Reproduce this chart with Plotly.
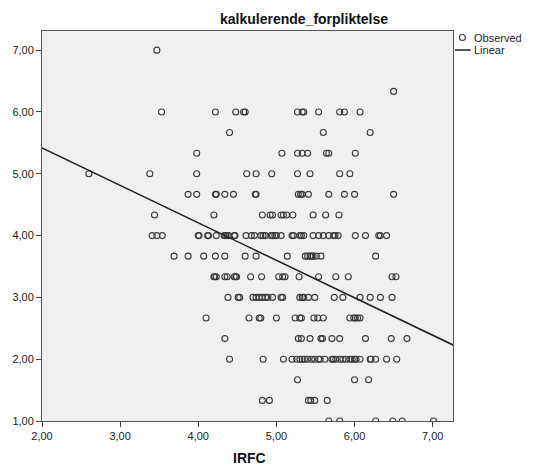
import plotly.graph_objects as go

# IRFC values (x) for each level of kalkulerende_forpliktelse (y)
y_levels = [7.0, 6.333, 6.0, 5.667, 5.333, 5.0, 4.667, 4.333, 4.0, 3.667,
            3.333, 3.0, 2.667, 2.333, 2.0, 1.667, 1.333, 1.0]

irfc_700 = [3.47]
irfc_633 = [6.50]
irfc_600 = [3.53, 4.22, 4.48, 4.58, 4.60, 5.27, 5.33, 5.35, 5.54, 5.81, 5.87, 6.07]
irfc_567 = [4.40, 5.60, 6.20]
irfc_533 = [3.98, 5.07, 5.27, 5.33, 5.40, 5.64, 5.67, 6.01]
irfc_500 = [2.60, 3.38, 3.98, 4.62, 4.74, 4.94, 5.27, 5.43, 5.81, 5.94]
irfc_467 = [3.87, 3.98, 4.22, 4.23, 4.34, 4.45, 4.73, 4.74, 5.28, 5.31, 5.33, 5.41,
            5.67, 5.87, 6.00, 6.50]
irfc_433 = [3.44, 4.20, 4.82, 4.92, 4.95, 5.06, 5.09, 5.13, 5.21, 5.47, 5.63, 5.80]
irfc_400 = [3.41, 3.47, 3.54, 4.00, 4.01, 4.12, 4.13, 4.23, 4.33, 4.35, 4.37, 4.39,
            4.46, 4.47, 4.61, 4.68, 4.72, 4.80, 4.83, 4.86, 4.93, 4.95, 4.98, 5.00,
            5.06, 5.20, 5.22, 5.30, 5.32, 5.35, 5.47, 5.54, 5.60, 5.67, 5.73, 5.75,
            5.79, 6.01, 6.14, 6.31, 6.33, 6.41]
irfc_367 = [3.69, 3.87, 4.07, 4.22, 4.34, 4.60, 4.74, 5.14, 5.37, 5.40, 5.43, 5.45,
            5.47, 5.51, 5.57, 6.27]
irfc_333 = [4.20, 4.21, 4.23, 4.34, 4.37, 4.46, 4.48, 4.49, 4.67, 4.81, 5.03, 5.08,
            5.11, 5.29, 5.54, 5.76, 5.92, 6.48, 6.53]
irfc_300 = [4.38, 4.51, 4.53, 4.70, 4.74, 4.78, 4.82, 4.86, 4.89, 4.95, 5.06, 5.08,
            5.30, 5.33, 5.35, 5.41, 5.49, 5.74, 5.85, 6.07, 6.20, 6.33, 6.48]
irfc_267 = [4.10, 4.65, 4.78, 4.80, 5.00, 5.24, 5.30, 5.32, 5.48, 5.53, 5.60, 5.94,
            5.99, 6.01, 6.04, 6.07]
irfc_233 = [4.34, 5.28, 5.32, 5.43, 5.57, 5.59, 5.71, 5.81, 6.14, 6.47, 6.67]
irfc_200 = [4.40, 4.83, 5.09, 5.20, 5.26, 5.30, 5.33, 5.36, 5.40, 5.45, 5.49, 5.54,
            5.56, 5.62, 5.71, 5.73, 5.76, 5.81, 5.85, 5.89, 5.94, 5.97, 6.00, 6.02,
            6.07, 6.20, 6.21, 6.27, 6.41, 6.54]
irfc_167 = [5.27, 6.00, 6.18]
irfc_133 = [4.82, 4.91, 5.41, 5.44, 5.49, 5.65]
irfc_100 = [5.67, 5.81, 6.27, 6.49, 6.61, 7.01]

rows = [irfc_700, irfc_633, irfc_600, irfc_567, irfc_533, irfc_500, irfc_467,
        irfc_433, irfc_400, irfc_367, irfc_333, irfc_300, irfc_267, irfc_233,
        irfc_200, irfc_167, irfc_133, irfc_100]

# Linear fit
fit_intercept = 6.63
fit_slope = -0.606

x_range = [2.0, 7.26]
y_range = [1.0, 7.31]
x_ticks = [2, 3, 4, 5, 6, 7]
y_ticks = [1, 2, 3, 4, 5, 6, 7]

xs, ys = [], []
for lvl, row in zip(y_levels, rows):
    xs.extend(row)
    ys.extend([lvl] * len(row))

line_x = x_range
line_y = [fit_intercept + fit_slope * v for v in line_x]

font_family = "Liberation Sans, Arial, sans-serif"
mark_col = "#3a3a3a"

fig = go.Figure()
fig.add_trace(go.Scatter(
    x=xs, y=ys, mode="markers", name="Observed",
    marker=dict(symbol="circle-open", size=6, color=mark_col,
                line=dict(width=1.1, color=mark_col)),
    showlegend=False,
))
fig.add_trace(go.Scatter(
    x=line_x, y=line_y, mode="lines", name="Linear",
    line=dict(color="#1e1e1e", width=1.5),
    showlegend=False,
))

axis_common = dict(
    showgrid=False, zeroline=False, showline=True, mirror=True,
    linecolor="#555555", linewidth=1,
    ticks="outside", ticklen=5, tickwidth=1, tickcolor="#444444",
    tickformat=".2f", tickfont=dict(family=font_family, size=11, color="#222222"),
)

fig.update_layout(
    width=536, height=470,
    margin=dict(l=36, r=83, t=31, b=49),
    paper_bgcolor="white", plot_bgcolor="#F0F0F0",
    separators=",.",
    font=dict(family=font_family, size=11, color="#222222"),
    xaxis=dict(range=x_range, tickvals=x_ticks, **axis_common),
    yaxis=dict(range=y_range, tickvals=y_ticks, **axis_common),
    showlegend=False,
    annotations=[
        dict(text="<b>kalkulerende_forpliktelse</b>", xref="paper", yref="paper",
             x=(302 - 36) / 417, y=1 + (31 - 19) / 390, xanchor="center", yanchor="middle",
             showarrow=False, font=dict(size=14, color="#111111", family=font_family)),
        dict(text="<b>IRFC</b>", xref="paper", yref="paper",
             x=(247 - 36) / 417, y=-(458 - 421) / 390, xanchor="center", yanchor="middle",
             showarrow=False, font=dict(size=14, color="#111111", family=font_family)),
        dict(text="Observed", xref="paper", yref="paper",
             x=(472 - 36) / 417, y=1 - (38 - 31) / 390, xanchor="left", yanchor="middle",
             showarrow=False, font=dict(size=11, color="#222222", family=font_family)),
        dict(text="Linear", xref="paper", yref="paper",
             x=(472 - 36) / 417, y=1 - (50 - 31) / 390, xanchor="left", yanchor="middle",
             showarrow=False, font=dict(size=11, color="#222222", family=font_family)),
    ],
    shapes=[
        dict(type="circle", xref="paper", yref="paper",
             x0=(459.5 - 36) / 417, x1=(465.5 - 36) / 417,
             y0=1 - (40.5 - 31) / 390, y1=1 - (34.5 - 31) / 390,
             line=dict(color=mark_col, width=1.1)),
        dict(type="line", xref="paper", yref="paper",
             x0=(455 - 36) / 417, x1=(471 - 36) / 417,
             y0=1 - (50 - 31) / 390, y1=1 - (50 - 31) / 390,
             line=dict(color="#1e1e1e", width=1.5)),
    ],
)

fig.write_html("out.html")
